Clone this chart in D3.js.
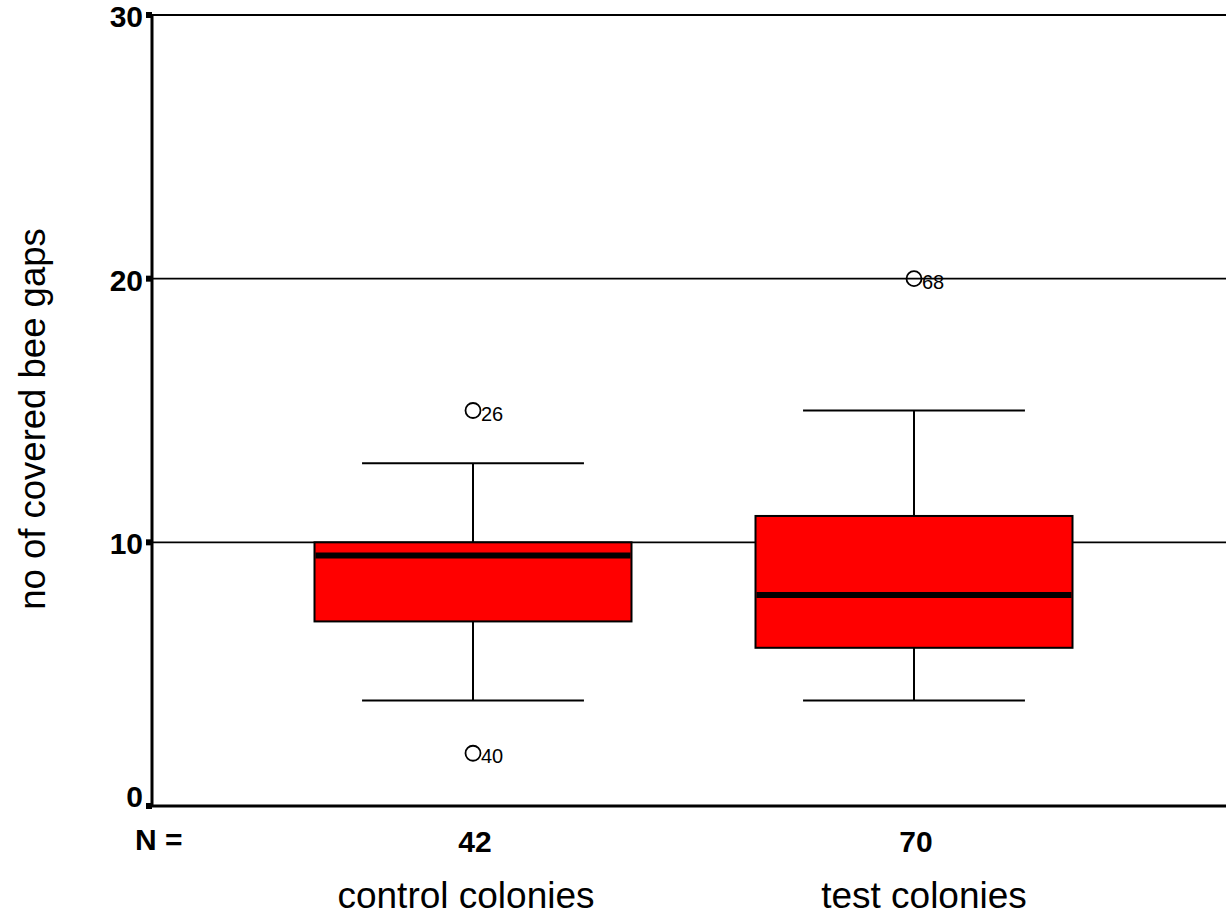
<!DOCTYPE html>
<html><head><meta charset="utf-8">
<script src="https://cdn.jsdelivr.net/npm/d3@7"></script>
<style>body{margin:0;background:#fff}svg{display:block}</style>
</head><body>
<script>
const categories = ["control colonies", "test colonies"];
const counts = [42, 70];
const q1 = [7, 6];
const median = [9.5, 8];
const q3 = [10, 11];
const whiskerLow = [4, 4];
const whiskerHigh = [13, 15];
const outliers = [
  [{v: 15, id: "26"}, {v: 2, id: "40"}],
  [{v: 20, id: "68"}]
];
const yTicks = [0, 10, 20, 30];

(function () {
const W = 1226, H = 917;
const svg = d3.select("body").append("svg").attr("width", W).attr("height", H);
const pL = 152, pR = 1226, pT = 15, pB = 806;
const y = d3.scaleLinear().domain([0, 30]).range([pB, pT]);
const x = d3.scaleBand().domain(categories).range([252.5, 1134.5]).padding(0);
const cx = d => x(d) + x.bandwidth() / 2;
const boxW = 317;
const FF = "Liberation Sans, Arial, Helvetica, sans-serif";
const labelDx = [-7, 10];

// gridlines
svg.append("g").selectAll("line").data(yTicks.filter(t => t > 0 && t < 30)).join("line")
  .attr("x1", pL).attr("x2", pR).attr("y1", d => y(d)).attr("y2", d => y(d))
  .attr("stroke", "#000").attr("stroke-width", 1.6);
svg.append("line").attr("x1", pL).attr("x2", pR).attr("y1", y(30)).attr("y2", y(30))
  .attr("stroke", "#000").attr("stroke-width", 2);

// y axis
const yAxis = d3.axisLeft(y).tickValues(yTicks).tickSize(0).tickPadding(9);
const ga = svg.append("g").attr("transform", `translate(${pL},0)`).call(yAxis);
ga.select(".domain").remove();
ga.selectAll("text").attr("font-family", FF)
  .attr("font-size", 30).attr("font-weight", "bold").attr("fill", "#000")
  .attr("dy", d => d === 0 ? "0em" : "0.38em");
svg.append("g").selectAll("rect").data(yTicks).join("rect")
  .attr("x", pL - 6).attr("y", d => y(d) - 3).attr("width", 6).attr("height", 6).attr("fill", "#000");
svg.append("line").attr("x1", pL).attr("x2", pL).attr("y1", pT - 1).attr("y2", pB + 1)
  .attr("stroke", "#000").attr("stroke-width", 3);
svg.append("line").attr("x1", pL).attr("x2", pR).attr("y1", pB).attr("y2", pB)
  .attr("stroke", "#000").attr("stroke-width", 3);

// boxes
const g = svg.append("g");
categories.forEach((c, i) => {
  const xc = cx(c);
  g.append("line").attr("x1", xc).attr("x2", xc).attr("y1", y(whiskerHigh[i])).attr("y2", y(q3[i]))
    .attr("stroke", "#000").attr("stroke-width", 2);
  g.append("line").attr("x1", xc).attr("x2", xc).attr("y1", y(q1[i])).attr("y2", y(whiskerLow[i]))
    .attr("stroke", "#000").attr("stroke-width", 2);
  [whiskerHigh[i], whiskerLow[i]].forEach(v => {
    g.append("line").attr("x1", xc - boxW / 2 * 0.7).attr("x2", xc + boxW / 2 * 0.7)
      .attr("y1", y(v)).attr("y2", y(v)).attr("stroke", "#000").attr("stroke-width", 2);
  });
  g.append("rect").attr("x", xc - boxW / 2).attr("width", boxW)
    .attr("y", y(q3[i])).attr("height", y(q1[i]) - y(q3[i]))
    .attr("fill", "#ff0000").attr("stroke", "#000").attr("stroke-width", 2);
  g.append("line").attr("x1", xc - boxW / 2 + 1).attr("x2", xc + boxW / 2 - 1)
    .attr("y1", y(median[i])).attr("y2", y(median[i])).attr("stroke", "#000").attr("stroke-width", 6);
  outliers[i].forEach(o => {
    g.append("circle").attr("cx", xc).attr("cy", y(o.v)).attr("r", 7.5)
      .attr("fill", "none").attr("stroke", "#000").attr("stroke-width", 1.8);
    g.append("text").attr("x", xc + 8).attr("y", y(o.v) + 10).text(o.id)
      .attr("font-family", FF).attr("font-size", 20).attr("fill", "#000");
  });
  svg.append("text").attr("x", xc + 2).attr("y", 852).attr("text-anchor", "middle").text(counts[i])
    .attr("font-family", FF).attr("font-size", 30).attr("font-weight", "bold").attr("fill", "#000");
  svg.append("text").attr("x", xc + labelDx[i]).attr("y", 908).attr("text-anchor", "middle").text(c)
    .attr("font-family", FF).attr("font-size", 37).attr("fill", "#000");
});
svg.append("text").attr("x", 135).attr("y", 850).text("N =")
  .attr("font-family", FF).attr("font-size", 30).attr("font-weight", "bold").attr("fill", "#000");
svg.append("text").attr("transform", `translate(45,419) rotate(-90)`).attr("text-anchor", "middle")
  .text("no of covered bee gaps")
  .attr("font-family", FF).attr("font-size", 36.5).attr("fill", "#000");
})();
</script>
</body></html>
